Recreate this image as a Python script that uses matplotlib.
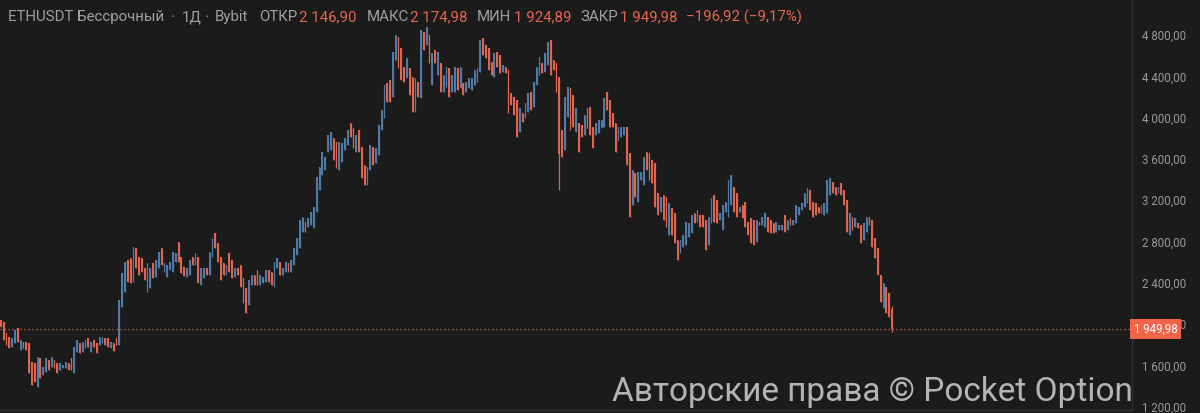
import matplotlib
matplotlib.use("Agg")
import matplotlib.pyplot as plt
import matplotlib.transforms as mtransforms
from matplotlib.ticker import FuncFormatter, FixedLocator

# ---------------- data (daily candles, ETHUSDT perpetual, Bybit) ----------------
opens = [
    2040,2023,1910,1878,1781,1814,1959,1749,1830,1830,
    1814,1636,1620,1394,1668,1507,1539,1652,1588,1652,
    1620,1555,1571,1571,1620,1668,1523,1733,1814,1733,
    1765,1862,1733,1846,1814,1797,1814,1862,1862,1765,
    1814,1862,1797,2169,2314,2620,2637,2411,2733,2653,
    2637,2540,2314,2347,2589,2460,2540,2734,2508,2460,
    2524,2508,2605,2799,2653,2556,2460,2476,2653,2573,
    2653,2379,2443,2540,2476,2653,2879,2782,2653,2589,
    2476,2686,2621,2460,2540,2573,2443,2347,2185,2379,
    2476,2524,2379,2395,2411,2524,2508,2363,2540,2605,
    2476,2508,2589,2508,2573,2670,2734,2895,2992,2944,
    2960,2927,3089,3299,3444,3492,3670,3686,3799,3767,
    3492,3573,3686,3735,3944,3896,3670,3880,3718,3541,
    3347,3492,3718,3557,3638,3880,3993,4332,4364,4203,
    4558,4784,4671,4493,4380,4477,4396,4057,4348,4186,
    4832,4703,4800,4316,4654,4412,4525,4251,4299,4477,
    4251,4251,4477,4283,4332,4251,4283,4267,4316,4348,
    4445,4767,4703,4671,4541,4396,4638,4606,4445,4493,
    4461,4235,4203,4170,3864,4041,3993,4057,4251,4106,
    4316,4412,4525,4445,4509,4751,4558,4525,4396,3880,
    3686,4009,4283,4219,3864,3944,3928,3831,4090,4106,
    3912,3831,3848,3896,3912,4251,4170,4041,3944,3783,
    3815,3831,3912,3654,3154,3460,3186,3396,3347,3670,
    3654,3589,3557,3267,3089,3250,3234,2863,3121,3073,
    2815,2686,2750,2766,2847,2879,3073,2992,3057,3057,
    3008,2766,2976,3250,3202,3008,2911,3089,3041,3154,
    3331,3267,3089,3154,3186,2992,3024,3008,2798,2992,
    2960,2943,3040,3008,2976,2895,2911,2911,3056,2911,
    3024,2960,2976,3056,3105,3137,3169,3298,3185,3169,
    3137,3073,3056,3073,3250,3379,3331,3266,3363,3298,
    3202,2863,3040,2943,2976,2960,2814,2895,3040,3008,
    2830,2734,2475,2153,2363,2298,2146.90,
]
closes = [
    1975,1846,1797,1765,1862,1943,1830,1846,1765,1749,
    1523,1410,1442,1684,1475,1588,1668,1555,1684,1571,
    1523,1620,1604,1636,1555,1555,1781,1846,1717,1830,
    1846,1781,1830,1781,1723,1878,1878,1797,1781,1830,
    1742,1797,2233,2491,2604,2411,2395,2750,2540,2475,
    2508,2427,2588,2540,2443,2621,2702,2573,2589,2573,
    2605,2702,2686,2605,2492,2466,2540,2621,2573,2686,
    2395,2540,2540,2476,2702,2831,2734,2605,2427,2476,
    2573,2508,2443,2540,2476,2363,2201,2105,2427,2476,
    2379,2379,2476,2460,2524,2411,2379,2605,2637,2476,
    2540,2605,2508,2621,2734,2831,3008,3040,2895,3024,
    3089,3137,3428,3525,3670,3621,3831,3864,3589,3509,
    3767,3751,3799,3880,3815,3702,3831,3670,3412,3347,
    3525,3735,3541,3702,3928,4073,4316,4154,4154,4638,
    4800,4477,4364,4348,4574,4219,4057,4380,4203,4848,
    4654,4880,4525,4622,4525,4638,4251,4412,4493,4203,
    4412,4493,4267,4493,4219,4348,4380,4380,4461,4477,
    4751,4606,4574,4461,4412,4622,4493,4428,4509,4428,
    4041,4122,4025,3815,4090,3960,4138,4235,4073,4348,
    4493,4590,4428,4622,4735,4412,4461,4251,3650,3621,
    4203,4299,3880,3912,4090,3670,3815,4025,3896,3831,
    3702,3944,3976,3977,4186,4073,3912,3912,3670,3912,
    3912,3912,3541,3041,3493,3234,3476,3476,3622,3492,
    3396,3363,3137,3057,3234,3008,2944,3170,2863,2782,
    2621,2815,2863,2992,2976,3057,2976,3105,2944,2944,
    2718,3041,3218,2992,2976,3073,3154,3186,3396,3444,
    3089,3041,3137,3024,2944,2863,2782,2766,3008,2960,
    3040,3073,2895,2879,2879,2992,2960,2960,2895,3008,
    2960,3008,3153,3137,3169,3266,3315,3105,3040,3056,
    3073,3153,3169,3395,3411,3266,3250,3331,3250,3153,
    2895,3073,2911,3024,2927,2782,2976,3040,2960,2750,
    2637,2475,2217,2395,2104,2072,1949.98,
]
highs = [
    2040,2023,1910,1878,1862,1943,1959,1846,1830,1830,
    1814,1636,1620,1684,1668,1588,1668,1652,1684,1652,
    1620,1620,1604,1636,1620,1668,1781,1846,1814,1830,
    1846,1862,1830,1846,1814,1878,1878,1862,1862,1830,
    1814,1862,2233,2491,2604,2620,2637,2750,2733,2653,
    2637,2540,2588,2540,2589,2621,2702,2734,2589,2573,
    2605,2702,2686,2799,2653,2556,2540,2621,2653,2686,
    2653,2540,2540,2540,2702,2831,2879,2782,2653,2589,
    2573,2686,2621,2540,2540,2573,2443,2347,2427,2476,
    2476,2524,2476,2460,2524,2524,2508,2605,2637,2605,
    2540,2605,2589,2621,2734,2831,3008,3040,2992,3024,
    3089,3137,3428,3525,3670,3621,3831,3864,3799,3767,
    3767,3751,3799,3880,3944,3896,3831,3880,3718,3541,
    3525,3735,3718,3702,3928,4073,4316,4332,4364,4638,
    4800,4784,4671,4493,4574,4477,4396,4380,4348,4848,
    4832,4880,4800,4622,4654,4638,4525,4412,4493,4477,
    4412,4493,4477,4493,4332,4348,4380,4380,4461,4477,
    4751,4767,4703,4671,4541,4622,4638,4606,4509,4493,
    4461,4235,4203,4170,4090,4041,4138,4235,4251,4348,
    4493,4590,4525,4622,4735,4751,4558,4525,4396,3880,
    4203,4299,4283,4219,4090,3944,3928,4025,4090,4106,
    3912,3944,3976,3977,4186,4251,4170,4041,3944,3912,
    3912,3912,3912,3654,3493,3460,3476,3476,3622,3670,
    3654,3589,3557,3267,3234,3250,3234,3170,3121,3073,
    2815,2815,2863,2992,2976,3057,3073,3105,3057,3057,
    3008,3041,3218,3250,3202,3073,3154,3186,3396,3444,
    3331,3267,3137,3154,3186,2992,3024,3008,3008,2992,
    3040,3073,3040,3008,2976,2992,2960,2960,3056,3008,
    3024,3008,3153,3137,3169,3266,3315,3298,3185,3169,
    3137,3153,3169,3395,3411,3379,3331,3331,3363,3298,
    3202,3073,3040,3024,2976,2960,2976,3040,3040,3008,
    2830,2734,2475,2395,2363,2298,2174.98,
]
lows = [
    1975,1846,1797,1765,1781,1814,1830,1749,1765,1749,
    1523,1410,1442,1394,1475,1507,1539,1555,1588,1571,
    1523,1555,1571,1571,1555,1555,1523,1733,1717,1733,
    1765,1781,1733,1781,1723,1797,1814,1797,1781,1765,
    1742,1797,1797,2169,2314,2411,2395,2411,2540,2475,
    2508,2427,2314,2347,2443,2460,2540,2573,2508,2460,
    2524,2508,2605,2605,2492,2466,2460,2476,2573,2573,
    2395,2379,2443,2476,2476,2653,2734,2605,2427,2476,
    2476,2508,2443,2460,2476,2363,2201,2105,2185,2379,
    2379,2379,2379,2395,2411,2411,2379,2363,2540,2476,
    2476,2508,2508,2508,2573,2670,2734,2895,2895,2944,
    2960,2927,3089,3299,3444,3492,3670,3686,3589,3509,
    3492,3573,3686,3735,3815,3702,3670,3670,3412,3347,
    3347,3492,3541,3557,3638,3880,3993,4154,4154,4203,
    4558,4477,4364,4348,4380,4219,4057,4057,4203,4186,
    4654,4703,4525,4316,4525,4412,4251,4251,4299,4203,
    4251,4251,4267,4283,4219,4251,4283,4267,4316,4348,
    4445,4606,4574,4461,4412,4396,4493,4428,4445,4428,
    4041,4122,4025,3815,3864,3960,3993,4057,4073,4106,
    4316,4412,4428,4445,4509,4412,4461,4251,3299,3621,
    3686,4009,3880,3912,3864,3670,3815,3831,3896,3831,
    3702,3831,3848,3896,3912,4073,3912,3912,3670,3783,
    3815,3831,3541,3041,3154,3234,3186,3396,3347,3492,
    3396,3363,3137,3057,3089,3008,2944,2863,2863,2782,
    2621,2686,2750,2766,2847,2879,2976,2992,2944,2944,
    2718,2766,2976,2992,2976,3008,2911,3089,3041,3154,
    3089,3041,3089,3024,2944,2863,2782,2766,2798,2960,
    2960,2943,2895,2879,2879,2895,2911,2911,2895,2911,
    2960,2960,2976,3056,3105,3137,3169,3105,3040,3056,
    3073,3073,3056,3073,3250,3266,3250,3266,3250,3153,
    2895,2863,2911,2943,2927,2782,2814,2895,2960,2750,
    2637,2475,2217,2153,2104,2072,1924.89,
]
y_ticks = [1200, 1600, 2000, 2400, 2800, 3200, 3600, 4000, 4400, 4800]
last_price = 1949.98

header_items = [
    ("ETHUSDT Бессрочный", "label"), ("•", "dot"), ("1Д", "label"), ("•", "dot"),
    ("Bybit", "label"), ("ОТКР", "label"), ("2 146,90", "value"),
    ("МАКС", "label"), ("2 174,98", "value"), ("МИН", "label"), ("1 924,89", "value"),
    ("ЗАКР", "label"), ("1 949,98", "value"), ("−196,92 (−9,17%)", "value"),
]
header_x = [8, 172, 182, 206, 215, 259, 299, 367, 410, 477, 514, 580, 620, 686]
watermark = "Авторские права © Pocket Option"

# ---------------- style ----------------
BG = "#1b1b1b"
UP = "#4f7ba6"
DOWN = "#e0654f"
TXT = "#9a9a9a"
FONT = ["Roboto", "DejaVu Sans"]

W, H = 1200, 413
fig = plt.figure(figsize=(W / 100, H / 100), dpi=100, facecolor=BG)
ax = fig.add_axes([0, 3 / H, 1132 / W, 410 / H], facecolor=BG)

xs = list(range(len(closes)))
up_x = [i for i in xs if closes[i] >= opens[i]]
dn_x = [i for i in xs if closes[i] < opens[i]]

for group, col in ((up_x, UP), (dn_x, DOWN)):
    ax.vlines(group, [lows[i] for i in group], [highs[i] for i in group],
              colors=col, linewidth=0.9, zorder=2)
    ax.bar(group, [abs(closes[i] - opens[i]) for i in group], width=0.6,
           bottom=[min(opens[i], closes[i]) for i in group], color=col,
           linewidth=0, zorder=3)

ax.axhline(last_price, color=DOWN, linewidth=0.9, linestyle=(0, (1, 2.2)), zorder=1)

ax.set_xlim(-0.3, 1132 / 2.82 - 0.3)
ax.set_ylim(1168, 5139)
ax.set_xticks([])
ax.yaxis.tick_right()
ax.yaxis.set_major_locator(FixedLocator(y_ticks))
ax.yaxis.set_major_formatter(FuncFormatter(
    lambda v, p: f"{v:,.2f}".replace(",", " ").replace(".", ",")))
ax.tick_params(axis="y", length=0, pad=7, colors=TXT, labelsize=8.3)
for lab in ax.get_yticklabels():
    lab.set_fontfamily(FONT)
for side in ("top", "left"):
    ax.spines[side].set_visible(False)
ax.spines["right"].set_color("#2f2f2f")
ax.spines["bottom"].set_color("#333333")
ax.spines["right"].set_linewidth(1)
ax.spines["bottom"].set_linewidth(1)

# last price label
trans = mtransforms.blended_transform_factory(ax.transAxes, ax.transData)
ax.text(1.0015, last_price, "1 949,98", transform=trans, ha="left", va="center",
        fontsize=8.3, color="white", family=FONT, clip_on=False, zorder=10,
        bbox=dict(boxstyle="square,pad=0.32", fc="#f0654a", ec="none"))

# header
for (txt, kind), px in zip(header_items, header_x):
    col = {"label": "#a0a0a0", "value": "#e5664e", "dot": "#a0a0a0"}[kind]
    fs = 5.5 if kind == "dot" else 10.8
    fig.text(px / W, 1 - 17 / H, txt, ha="left", va="center", color=col,
             fontsize=fs, family=FONT)

# watermark
fig.text(612 / W, 1 - 401 / H, watermark, ha="left", va="baseline",
         color="#d0d0d0", alpha=0.85, fontsize=24, family=FONT, zorder=20)

fig.savefig("out.png", dpi=100, facecolor=BG)
